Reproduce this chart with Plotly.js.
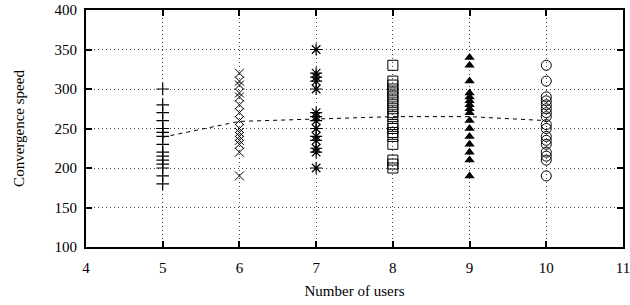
<!DOCTYPE html>
<html><head><meta charset="utf-8">
<script src="https://cdn.plot.ly/plotly-3.0.1.min.js"></script>
<style>html,body{margin:0;padding:0;background:#fff}#c{width:630px;height:305px}</style>
</head><body><div id="c"></div>
<script>
var users5 = [300, 280, 270, 260, 250, 250, 245, 240, 230, 220, 215, 210, 205, 200, 190, 180];
var users6 = [320, 310, 305, 295, 290, 280, 270, 260, 250, 245, 240, 235, 230, 220, 190];
var users7 = [350, 320, 315, 310, 300, 270, 265, 260, 250, 240, 235, 225, 220, 200];
var users8 = [330, 310, 305, 300, 295, 290, 285, 280, 275, 270, 265, 255, 250, 245, 240, 230, 210, 205, 200];
var users9 = [340, 330, 310, 295, 290, 285, 280, 275, 270, 260, 250, 240, 230, 220, 210, 190];
var users10 = [330, 310, 290, 285, 280, 275, 270, 265, 255, 250, 240, 235, 230, 220, 215, 210, 190];
var meanX = [5, 6, 7, 8, 9, 10];
var meanY = [239, 259, 262, 265, 265, 260];
var xTicks = [4, 5, 6, 7, 8, 9, 10, 11];
var yTicks = [100, 150, 200, 250, 300, 350, 400];

function col(x, vals, sym, size, lw) {
  return {type:'scatter', mode:'markers', x: vals.map(function(){return x;}), y: vals,
    marker:{symbol:sym, size:size, color:'#000', line:{color:'#000', width:lw}},
    showlegend:false, hoverinfo:'skip'};
}
var traces = [
  {type:'scatter', mode:'lines', x:meanX, y:meanY, line:{color:'#000', width:1, dash:'4px,4px'}, showlegend:false},
  col(5, users5, 'cross-thin-open', 9, 1.2),
  col(6, users6, 'x-thin-open', 9, 1),
  col(7, users7, 'asterisk-open', 10, 1.2),
  col(8, users8, 'square-open', 10, 1),
  col(9, users9, 'triangle-up', 9, 0),
  col(10, users10, 'circle-open', 10, 1)
];
var font = {family:'"Liberation Serif", "Times New Roman", serif', size:15, color:'#000'};
var layout = {
  width:630, height:305,
  margin:{l:86, r:7, t:10, b:58},
  paper_bgcolor:'#fff', plot_bgcolor:'#fff',
  font: font,
  xaxis:{range:[4,11], tickvals:xTicks, ticktext:xTicks.map(String),
    showline:true, linecolor:'#000', linewidth:2, mirror:'ticks',
    ticks:'inside', ticklen:6, tickwidth:2, tickcolor:'#000',
    showgrid:true, gridcolor:'#444', gridwidth:1, griddash:'1px,3px',
    zeroline:false, tickfont:font, ticklabelstandoff:6, ticklabeloverflow:'allow', automargin:false,
    title:{text:'Number of users', font:font, standoff:10}},
  yaxis:{range:[100,400], tickvals:yTicks, ticktext:yTicks.map(String),
    showline:true, linecolor:'#000', linewidth:2, mirror:'ticks',
    ticks:'inside', ticklen:6, tickwidth:2, tickcolor:'#000',
    showgrid:true, gridcolor:'#444', gridwidth:1, griddash:'1px,3px',
    zeroline:false, tickfont:font, ticklabelstandoff:4, automargin:false,
    title:{text:'Convergence speed', font:font, standoff:26}}
};
Plotly.newPlot('c', traces, layout, {staticPlot:true, displayModeBar:false});
</script></body></html>
